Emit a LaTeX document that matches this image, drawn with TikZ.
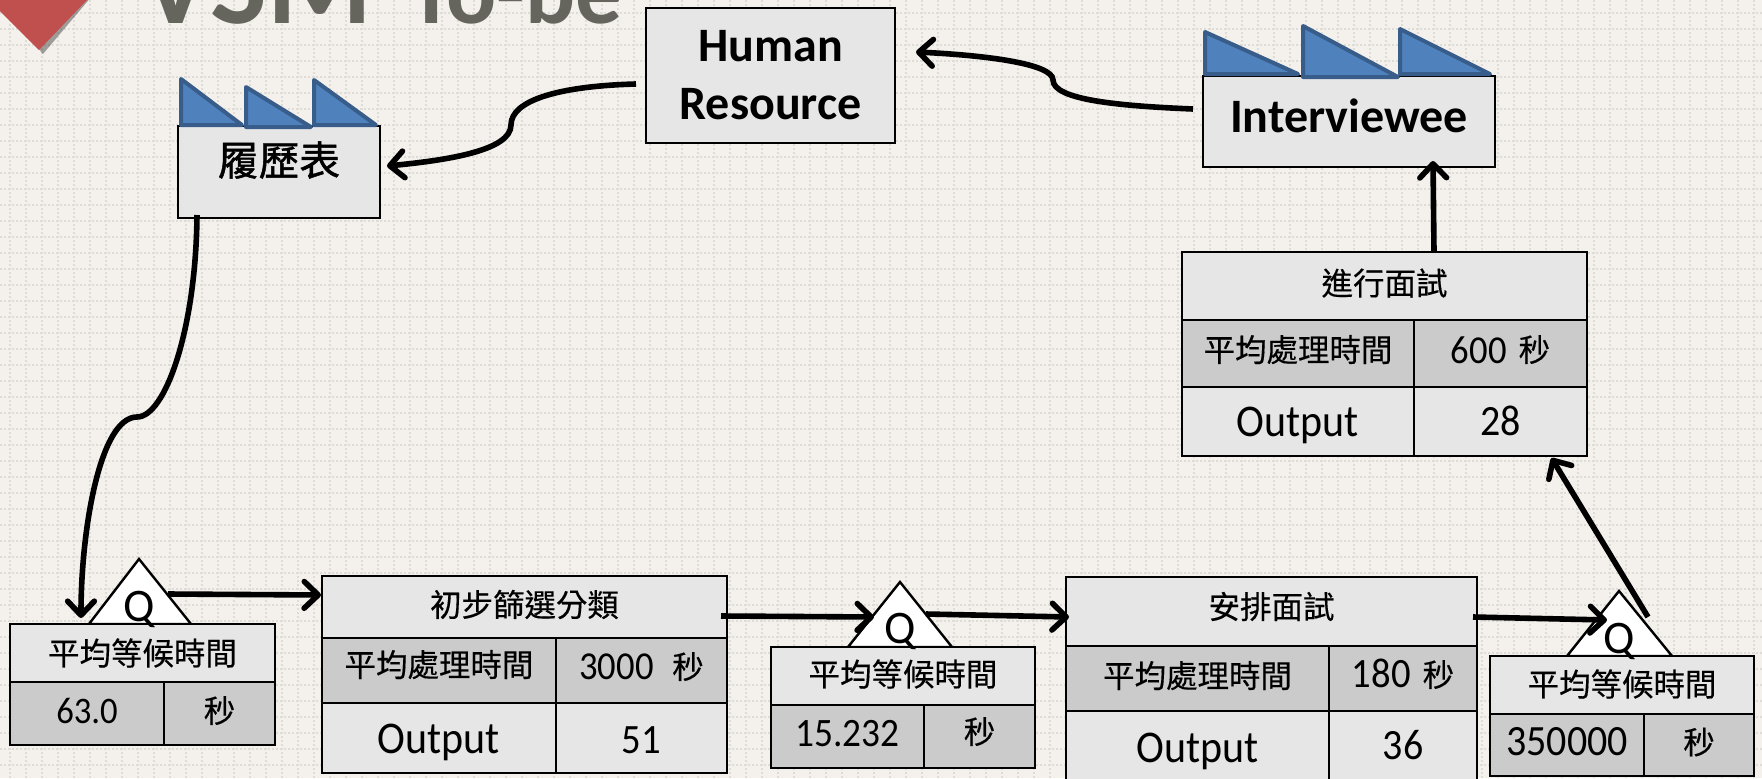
\documentclass[tikz,border=0pt]{standalone}
\usepackage{fontspec}
\usepackage{graphicx}
\usetikzlibrary{arrows.meta,calc}
\setmainfont{Carlito}
\newfontfamily\cjk[FakeBold=0.35]{Noto Sans CJK TC}
\newfontfamily\cjkb[FakeBold=1.2]{Noto Sans CJK TC}
\definecolor{bgc}{HTML}{F4F0EB}
\definecolor{dotc}{HTML}{DEDCD7}
\definecolor{rowa}{HTML}{E6E6E6}
\definecolor{rowb}{HTML}{CBCBCB}
\definecolor{fblue}{HTML}{4F81BD}
\definecolor{fedge}{HTML}{385D8A}
\definecolor{titlec}{HTML}{65655E}
\definecolor{redc}{HTML}{C0504D}
% #1 = px up from cell centre, #2 = text
\newcommand{\zh}[2][0]{\raisebox{\dimexpr-9pt+#1pt*3/4\relax}[0pt][0pt]{\cjk\fontsize{23.6pt}{28pt}\selectfont #2}}
% #1 = px from cell centre down to baseline, #2 = size, #3 = text
\newcommand{\en}[3]{\raisebox{\dimexpr-#1pt*3/4\relax}[0pt][0pt]{\scalebox{1}[1.08]{\fontsize{#2pt}{#2pt}\selectfont #3}}}
\newcommand{\cellbox}[7]{%
  \node[cellstyle,fill=#6,minimum width={((#4)-(#2))*0.75pt},minimum height={((#5)-(#3))*0.75pt}]
    (#1) at ({((#2)+(#4))/2},{((#3)+(#5))/2}) {#7};}
\tikzset{
  cellstyle/.style={draw=black,line width=2.1pt,inner sep=0pt,outer sep=0pt,align=center,text=black},
  sawtooth/.style={fill=fblue,draw=fedge,line width=3pt,line join=round},
  qtri/.style={fill=white,draw=black,line width=1.8pt,line join=miter},
  qmark/.style={anchor=base,inner sep=0pt,font=\fontsize{35pt}{35pt}\selectfont},
  flow/.style={draw=black,line width=4.2pt,-{Straight Barb[length=10.5pt,width=20pt,line width=4.2pt,round]}},
  gridline/.style={draw=dotc,line width=1.5pt,dash pattern=on 1.5pt off 1.5pt},
}
\begin{document}
\begin{tikzpicture}[x=0.75pt,y=-0.75pt]
\useasboundingbox (0,0) rectangle (1762,778);
\clip (0,0) rectangle (1762,778);
\fill[bgc] (0,0) rectangle (1762,778);
\foreach \i in {0,...,109} \draw[gridline] ({10+16*\i},0) -- ({10+16*\i},778);
\foreach \j in {0,...,48} \draw[gridline] (0,{13+16*\j}) -- (1762,{13+16*\j});
% marker and title
\fill[black,opacity=.35] (-6,-4) -- (43,54) -- (92,-4) -- cycle;
\fill[redc] (-11,0) -- (39,50) -- (87,0) -- cycle;
\node[anchor=base west,inner sep=0pt,text=titlec,font=\bfseries\fontsize{90pt}{90pt}\selectfont] (ttla) at (140,23) {VSM};
\node[anchor=base west,inner sep=0pt,text=titlec,font=\bfseries\fontsize{70pt}{70pt}\selectfont] (ttlb) at (408,23) {To-be};
% Q triangles
\draw[qtri] (89,624) -- (139,559) -- (191,624) -- cycle;
\draw[qtri] (848,647) -- (900,582) -- (952,647) -- cycle;
\draw[qtri] (1567,656) -- (1619,591) -- (1672,656) -- cycle;
% factories and Human Resource
\cellbox{resume}{178}{126}{380}{218}{rowa}{}
\node[inner sep=0pt,font=\cjkb\fontsize{30.5pt}{32pt}\selectfont] (resumet) at ($(resume.center)+(0,-12)$) {履歷表};
\cellbox{iv}{1203}{76}{1495}{167}{rowa}{}
\node[inner sep=0pt,font=\bfseries\fontsize{36pt}{40pt}\selectfont] (ivt) at ($(iv.center)+(0,-6)$) {Interviewee};
\cellbox{hr}{646}{8}{895}{143}{rowa}{}
\node[inner sep=0pt,align=center,font=\bfseries\fontsize{36pt}{43.5pt}\selectfont] (hrt) at (hr.center) {Human\\Resource};
% factory roofs
\draw[sawtooth] (181,125) -- (181,79) -- (242,125) -- cycle;
\draw[sawtooth] (246,127) -- (246,87) -- (311,127) -- cycle;
\draw[sawtooth] (314,125) -- (314,80) -- (376,125) -- cycle;
\draw[sawtooth] (1205,74) -- (1205,32) -- (1298,74) -- cycle;
\draw[sawtooth] (1303,77) -- (1303,26) -- (1398,77) -- cycle;
\draw[sawtooth] (1400,74) -- (1400,29) -- (1490,74) -- cycle;
% wait boxes
\cellbox{wa}{10}{624}{275}{682}{rowa}{\zh{平均等候時間}}
\cellbox{wal}{10}{682}{164}{745}{rowb}{\en{9.5}{26}{63.0}}
\cellbox{war}{164}{682}{275}{745}{rowb}{\zh[3]{秒}}
\cellbox{wb}{771}{647}{1035}{705}{rowa}{\zh[2]{平均等候時間}}
\cellbox{wbl}{771}{705}{924}{768}{rowb}{\en{9.5}{28}{15.232}}
\cellbox{wbr}{924}{705}{1035}{768}{rowb}{\zh[5]{秒}}
\cellbox{wc}{1490}{656}{1754}{714}{rowa}{\zh[1]{平均等候時間}}
\cellbox{wcl}{1490}{714}{1644}{776}{rowb}{\en{10}{30}{350000}}
\cellbox{wcr}{1644}{714}{1754}{776}{rowb}{\zh[3]{秒}}
% process boxes
\cellbox{pa}{322}{576}{727}{638}{rowa}{\zh[2.5]{初步篩選分類}}
\cellbox{pal}{322}{638}{556}{703}{rowb}{\zh[6]{平均處理時間}}
\cellbox{par}{556}{638}{727}{703}{rowb}{\en{8.5}{27.5}{3000}\hspace{14pt}\zh[4]{秒}}
\cellbox{pam}{322}{703}{556}{773}{rowa}{\en{15}{31.5}{Output}}
\cellbox{pan}{556}{703}{727}{773}{rowa}{\en{15}{29}{51}}
\cellbox{pb}{1066}{577}{1477}{646}{rowa}{\zh[5]{安排面試}}
\cellbox{pbl}{1066}{646}{1329}{711}{rowb}{\zh[3]{平均處理時間}}
\cellbox{pbr}{1329}{646}{1477}{711}{rowb}{\en{8.5}{29}{180}\hspace{9pt}\zh[4]{秒}}
\cellbox{pbm}{1066}{711}{1329}{783}{rowa}{\en{15}{31.5}{Output}}
\cellbox{pbn}{1329}{711}{1477}{783}{rowa}{\en{12}{30}{36}}
\cellbox{pc}{1182}{252}{1587}{320}{rowa}{\zh[3]{進行面試}}
\cellbox{pcl}{1182}{320}{1414}{387}{rowb}{\zh[4]{平均處理時間}}
\cellbox{pcr}{1414}{320}{1587}{387}{rowb}{\en{9.5}{27.5}{600}\hspace{9pt}\zh[4]{秒}}
\cellbox{pcm}{1182}{387}{1414}{456}{rowa}{\en{15}{31.5}{Output}}
\cellbox{pcn}{1414}{387}{1587}{456}{rowa}{\en{14}{30}{28}}
% Q letters
\node[qmark] (qa) at (139,621) {Q};
\node[qmark] (qb) at (900,643) {Q};
\node[qmark] (qc) at (1619,653) {Q};
% connectors
\draw[flow] ($(iv.west)+(-10,-12.5)$) .. controls (1120,106) and (1053,100) .. (1053,80)
  .. controls (1053,63) and (980,55) .. ($(hr.east)+(21,-23.5)$);
\draw[flow] ($(hr.west)+(-10,8.5)$) .. controls (560,86) and (511,100) .. (511,125)
  .. controls (511,150) and (450,160) .. ($(resume.east)+(7,-6)$);
\draw[flow] ($(resume.south)+(-82,-3)$) .. controls (196,330) and (165,417) .. (137,417)
  .. controls (100,417) and (81,530) .. ($(qa.base)+(-58,-3)$);
\draw[flow] ($(qa.base)+(29,-27)$) -- ($(pa.west)+(-1,-12)$);
\draw[flow] ($(pa.east)+(-6,9)$) -- ($(qb.base)+(-26,-26)$);
\draw[flow] ($(qb.base)+(26,-29)$) -- ($(pb.west)+(3,5.5)$);
\draw[flow] ($(pb.east)+(-4,5.5)$) -- ($(qc.base)+(-12,-33)$);
\draw[flow] ($(qc.base)+(29,-36)$) -- ($(pcn.south)+(51,2)$);
\draw[flow] ($(pc.north)+(49.5,0)$) -- ($(iv.south)+(84,-6)$);
\end{tikzpicture}
\end{document}
